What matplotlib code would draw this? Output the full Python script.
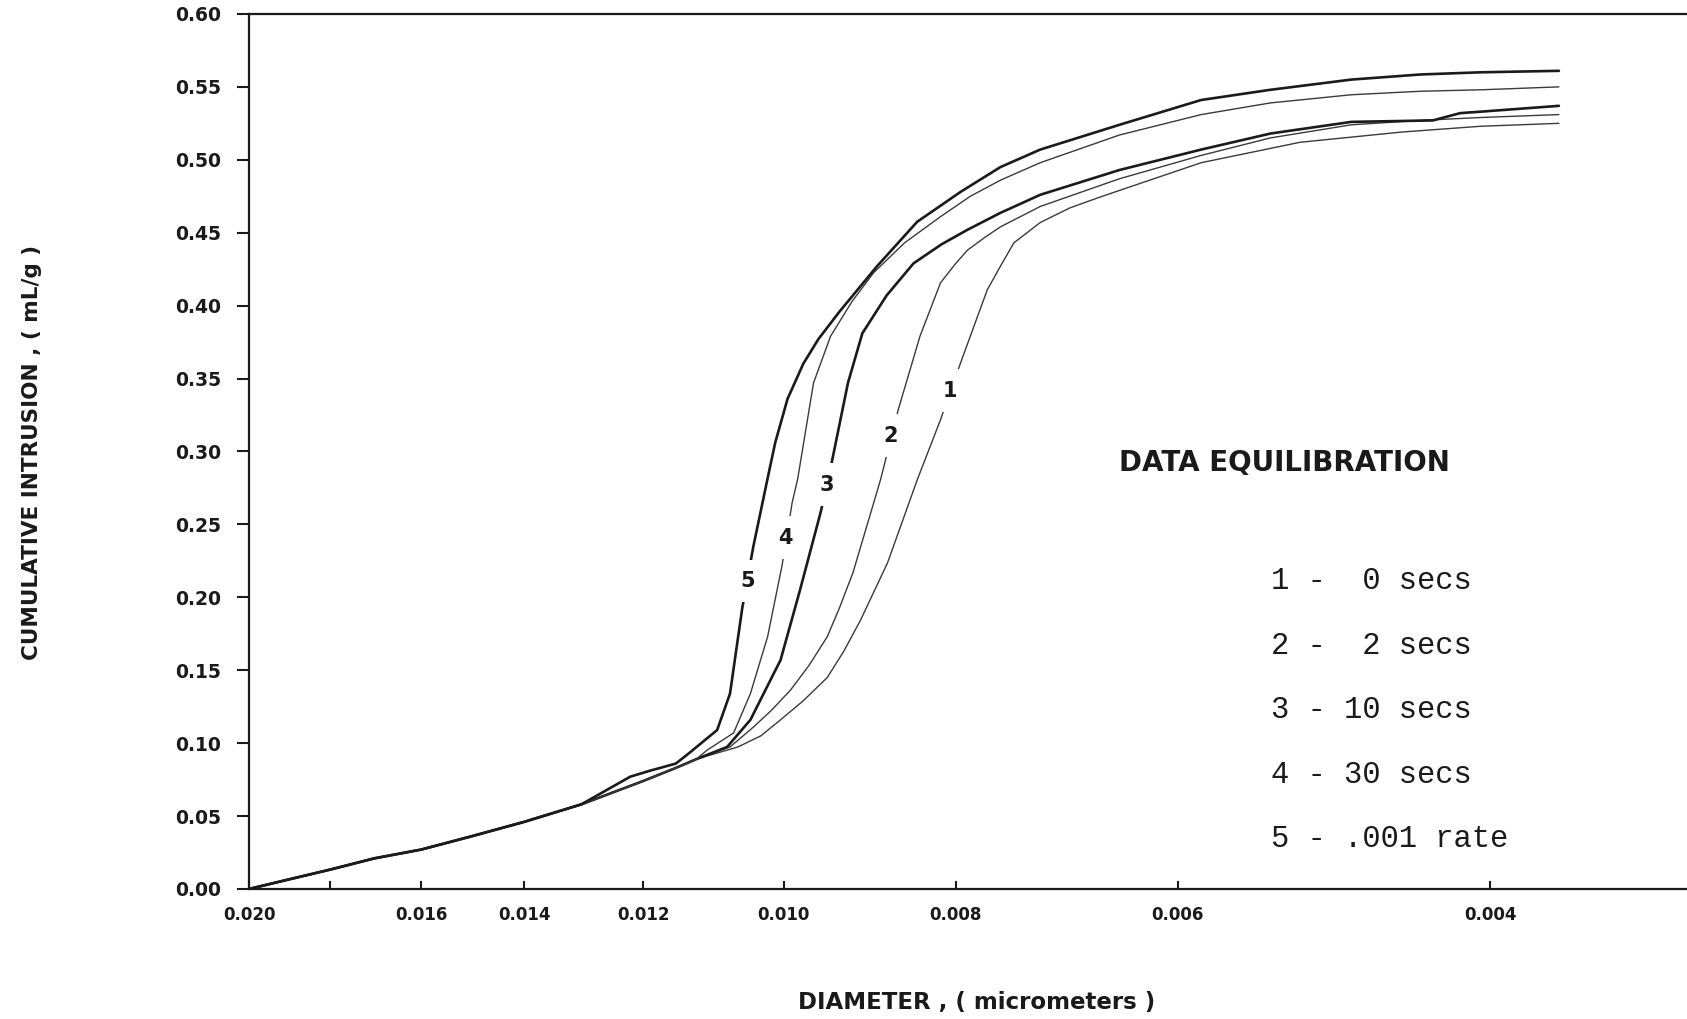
import matplotlib
matplotlib.use('Agg')
import matplotlib.pyplot as plt
from matplotlib.ticker import FixedLocator, FixedFormatter, NullLocator

plt.rcParams['font.family'] = ['DejaVu Sans']

# low-diameter end is shared by all five runs
base_d = [0.020, 0.019, 0.018, 0.017, 0.016, 0.015, 0.014, 0.013, 0.012, 0.0115, 0.0112]
base_v = [0.000, 0.0065, 0.0133, 0.021, 0.027, 0.036, 0.046, 0.058, 0.074, 0.083, 0.089]

c1_d = [0.01061, 0.01030, 0.01004, 0.00975, 0.00945, 0.00925, 0.00905, 0.00874, 0.00841,
        0.00816, 0.00795, 0.00768, 0.00755, 0.00742, 0.00717, 0.00690, 0.00663, 0.00582,
        0.00512, 0.00449, 0.00405, 0.00366]
c1_v = [0.0974, 0.105, 0.116, 0.129, 0.145, 0.163, 0.1845, 0.2236, 0.2805,
        0.3217, 0.3608, 0.4108, 0.427, 0.443, 0.457, 0.467, 0.4746, 0.498,
        0.512, 0.519, 0.523, 0.525]

c2_d = [0.01072, 0.01040, 0.01015, 0.00991, 0.00968, 0.00945, 0.00930, 0.00914, 0.00882,
        0.00862, 0.00838, 0.00816, 0.00800, 0.00788, 0.00770, 0.00755, 0.00717, 0.00647,
        0.00582, 0.00532, 0.00479, 0.00438, 0.00405, 0.00366]
c2_v = [0.0974, 0.111, 0.123, 0.1365, 0.153, 0.173, 0.193, 0.217, 0.2805,
        0.3285, 0.379, 0.4156, 0.429, 0.438, 0.447, 0.454, 0.468, 0.487,
        0.503, 0.515, 0.524, 0.527, 0.529, 0.531]

c3_d = [0.01076, 0.01044, 0.01004, 0.00979, 0.00953, 0.00939, 0.00920, 0.00903, 0.00875,
        0.00845, 0.00815, 0.00788, 0.00755, 0.00717, 0.00647, 0.00582, 0.00532, 0.00479,
        0.00431, 0.00416, 0.00405, 0.00366]
c3_v = [0.0974, 0.116, 0.157, 0.205, 0.2586, 0.294, 0.347, 0.381, 0.407,
        0.429, 0.442, 0.452, 0.4636, 0.476, 0.493, 0.507, 0.518, 0.526,
        0.527, 0.532, 0.533, 0.537]

c4_d = [0.01104, 0.01067, 0.01044, 0.01021, 0.01002, 0.00989, 0.00982, 0.00962, 0.00941,
        0.00915, 0.00890, 0.00855, 0.00816, 0.00785, 0.00755, 0.00717, 0.00647, 0.00582,
        0.00532, 0.00479, 0.00438, 0.00405, 0.00366]
c4_v = [0.0953, 0.107, 0.134, 0.173, 0.222, 0.265, 0.281, 0.347, 0.379,
        0.403, 0.4225, 0.443, 0.461, 0.475, 0.486, 0.498, 0.517, 0.531,
        0.539, 0.5446, 0.547, 0.548, 0.550]

c5_low_d = [0.020, 0.019, 0.018, 0.017, 0.016, 0.015, 0.014, 0.013, 0.0122, 0.0119, 0.0115]
c5_low_v = [0.000, 0.0065, 0.0133, 0.021, 0.027, 0.036, 0.046, 0.058, 0.077, 0.081, 0.086]
c5_d = [0.0113, 0.0109, 0.01072, 0.01055, 0.0104, 0.0102, 0.01011, 0.00995, 0.00975,
        0.00956, 0.00930, 0.00886, 0.00841, 0.00795, 0.00755, 0.00717, 0.00647, 0.00582,
        0.00532, 0.00479, 0.00438, 0.00405, 0.00366]
c5_v = [0.0933, 0.109, 0.134, 0.193, 0.235, 0.284, 0.306, 0.336, 0.360,
        0.377, 0.396, 0.427, 0.4575, 0.478, 0.495, 0.507, 0.524, 0.541,
        0.548, 0.555, 0.5585, 0.560, 0.561]

curve_names = ['1', '2', '3', '4', '5']
label_d = [0.008065, 0.008707, 0.009461, 0.00998, 0.01048]
label_v = [0.3416, 0.3107, 0.2771, 0.2407, 0.2112]

x_ticks = [0.020, 0.018, 0.016, 0.014, 0.012, 0.010, 0.008, 0.006, 0.004]
x_tick_labels = ['0.020', '', '0.016', '0.014', '0.012', '0.010', '0.008', '0.006', '0.004']
y_ticks = [0.00, 0.05, 0.10, 0.15, 0.20, 0.25, 0.30, 0.35, 0.40, 0.45, 0.50, 0.55, 0.60]

legend_title = 'DATA EQUILIBRATION'
legend_lines = ['1 -  0 secs', '2 -  2 secs', '3 - 10 secs', '4 - 30 secs', '5 - .001 rate']

fig = plt.figure(figsize=(16.87, 10.19), dpi=100)
ax = fig.add_axes([0.1476, 0.1276, 0.8524, 0.8587])

ink = '#1a1a1a'
curves = [
    (base_d + c1_d, base_v + c1_v, 1.0, '#3a3a3a'),
    (base_d + c2_d, base_v + c2_v, 1.0, '#3a3a3a'),
    (base_d + c3_d, base_v + c3_v, 1.9, ink),
    (base_d + c4_d, base_v + c4_v, 1.0, '#3a3a3a'),
    (c5_low_d + c5_d, c5_low_v + c5_v, 1.9, ink),
]
for d, v, lw, col in curves:
    ax.plot(d, v, color=col, lw=lw, solid_capstyle='round', solid_joinstyle='round')

# curve numbers sit in a gap cut out of each line
for name, d, v in zip(curve_names, label_d, label_v):
    ax.text(d, v, name, ha='center', va='center', fontsize=15, fontweight='bold',
            color=ink, zorder=5,
            bbox=dict(boxstyle='square,pad=0.55', facecolor='white', edgecolor='none'))

ax.set_xscale('log')
ax.set_xlim(0.020, 0.0031)
ax.set_ylim(0, 0.6)

ax.xaxis.set_major_locator(FixedLocator(x_ticks))
ax.xaxis.set_major_formatter(FixedFormatter(x_tick_labels))
ax.xaxis.set_minor_locator(NullLocator())
ax.set_yticks(y_ticks)
ax.set_yticklabels([f'{v:.2f}' for v in y_ticks])

ax.tick_params(axis='x', direction='in', length=6, width=1.5, pad=12,
               labelsize=12, colors=ink)
ax.tick_params(axis='y', direction='out', length=9, width=1.5, pad=11,
               labelsize=13.5, colors=ink)
for lab in ax.get_xticklabels() + ax.get_yticklabels():
    lab.set_fontweight('bold')

for side in ['left', 'bottom', 'top']:
    ax.spines[side].set_linewidth(1.6)
    ax.spines[side].set_color(ink)
ax.spines['right'].set_visible(False)

# legend block
ax.text(0.605, 0.487, legend_title, transform=ax.transAxes, ha='left', va='center',
        fontsize=20, fontweight='bold', color=ink)
legend_y = [0.352, 0.278, 0.2046, 0.130, 0.057]
for txt, y in zip(legend_lines, legend_y):
    ax.text(0.711, y, txt, transform=ax.transAxes, ha='left', va='center',
            fontsize=22, family='Liberation Mono', color=ink)

fig.text(0.019, 0.556, 'CUMULATIVE INTRUSION , ( mL/g )', rotation=90,
         ha='center', va='center', fontsize=15.5, fontweight='bold', color=ink)
fig.text(0.579, 0.016, 'DIAMETER , ( micrometers )', ha='center', va='center',
         fontsize=16.5, fontweight='bold', color=ink)

fig.savefig('out.png', dpi=100)
